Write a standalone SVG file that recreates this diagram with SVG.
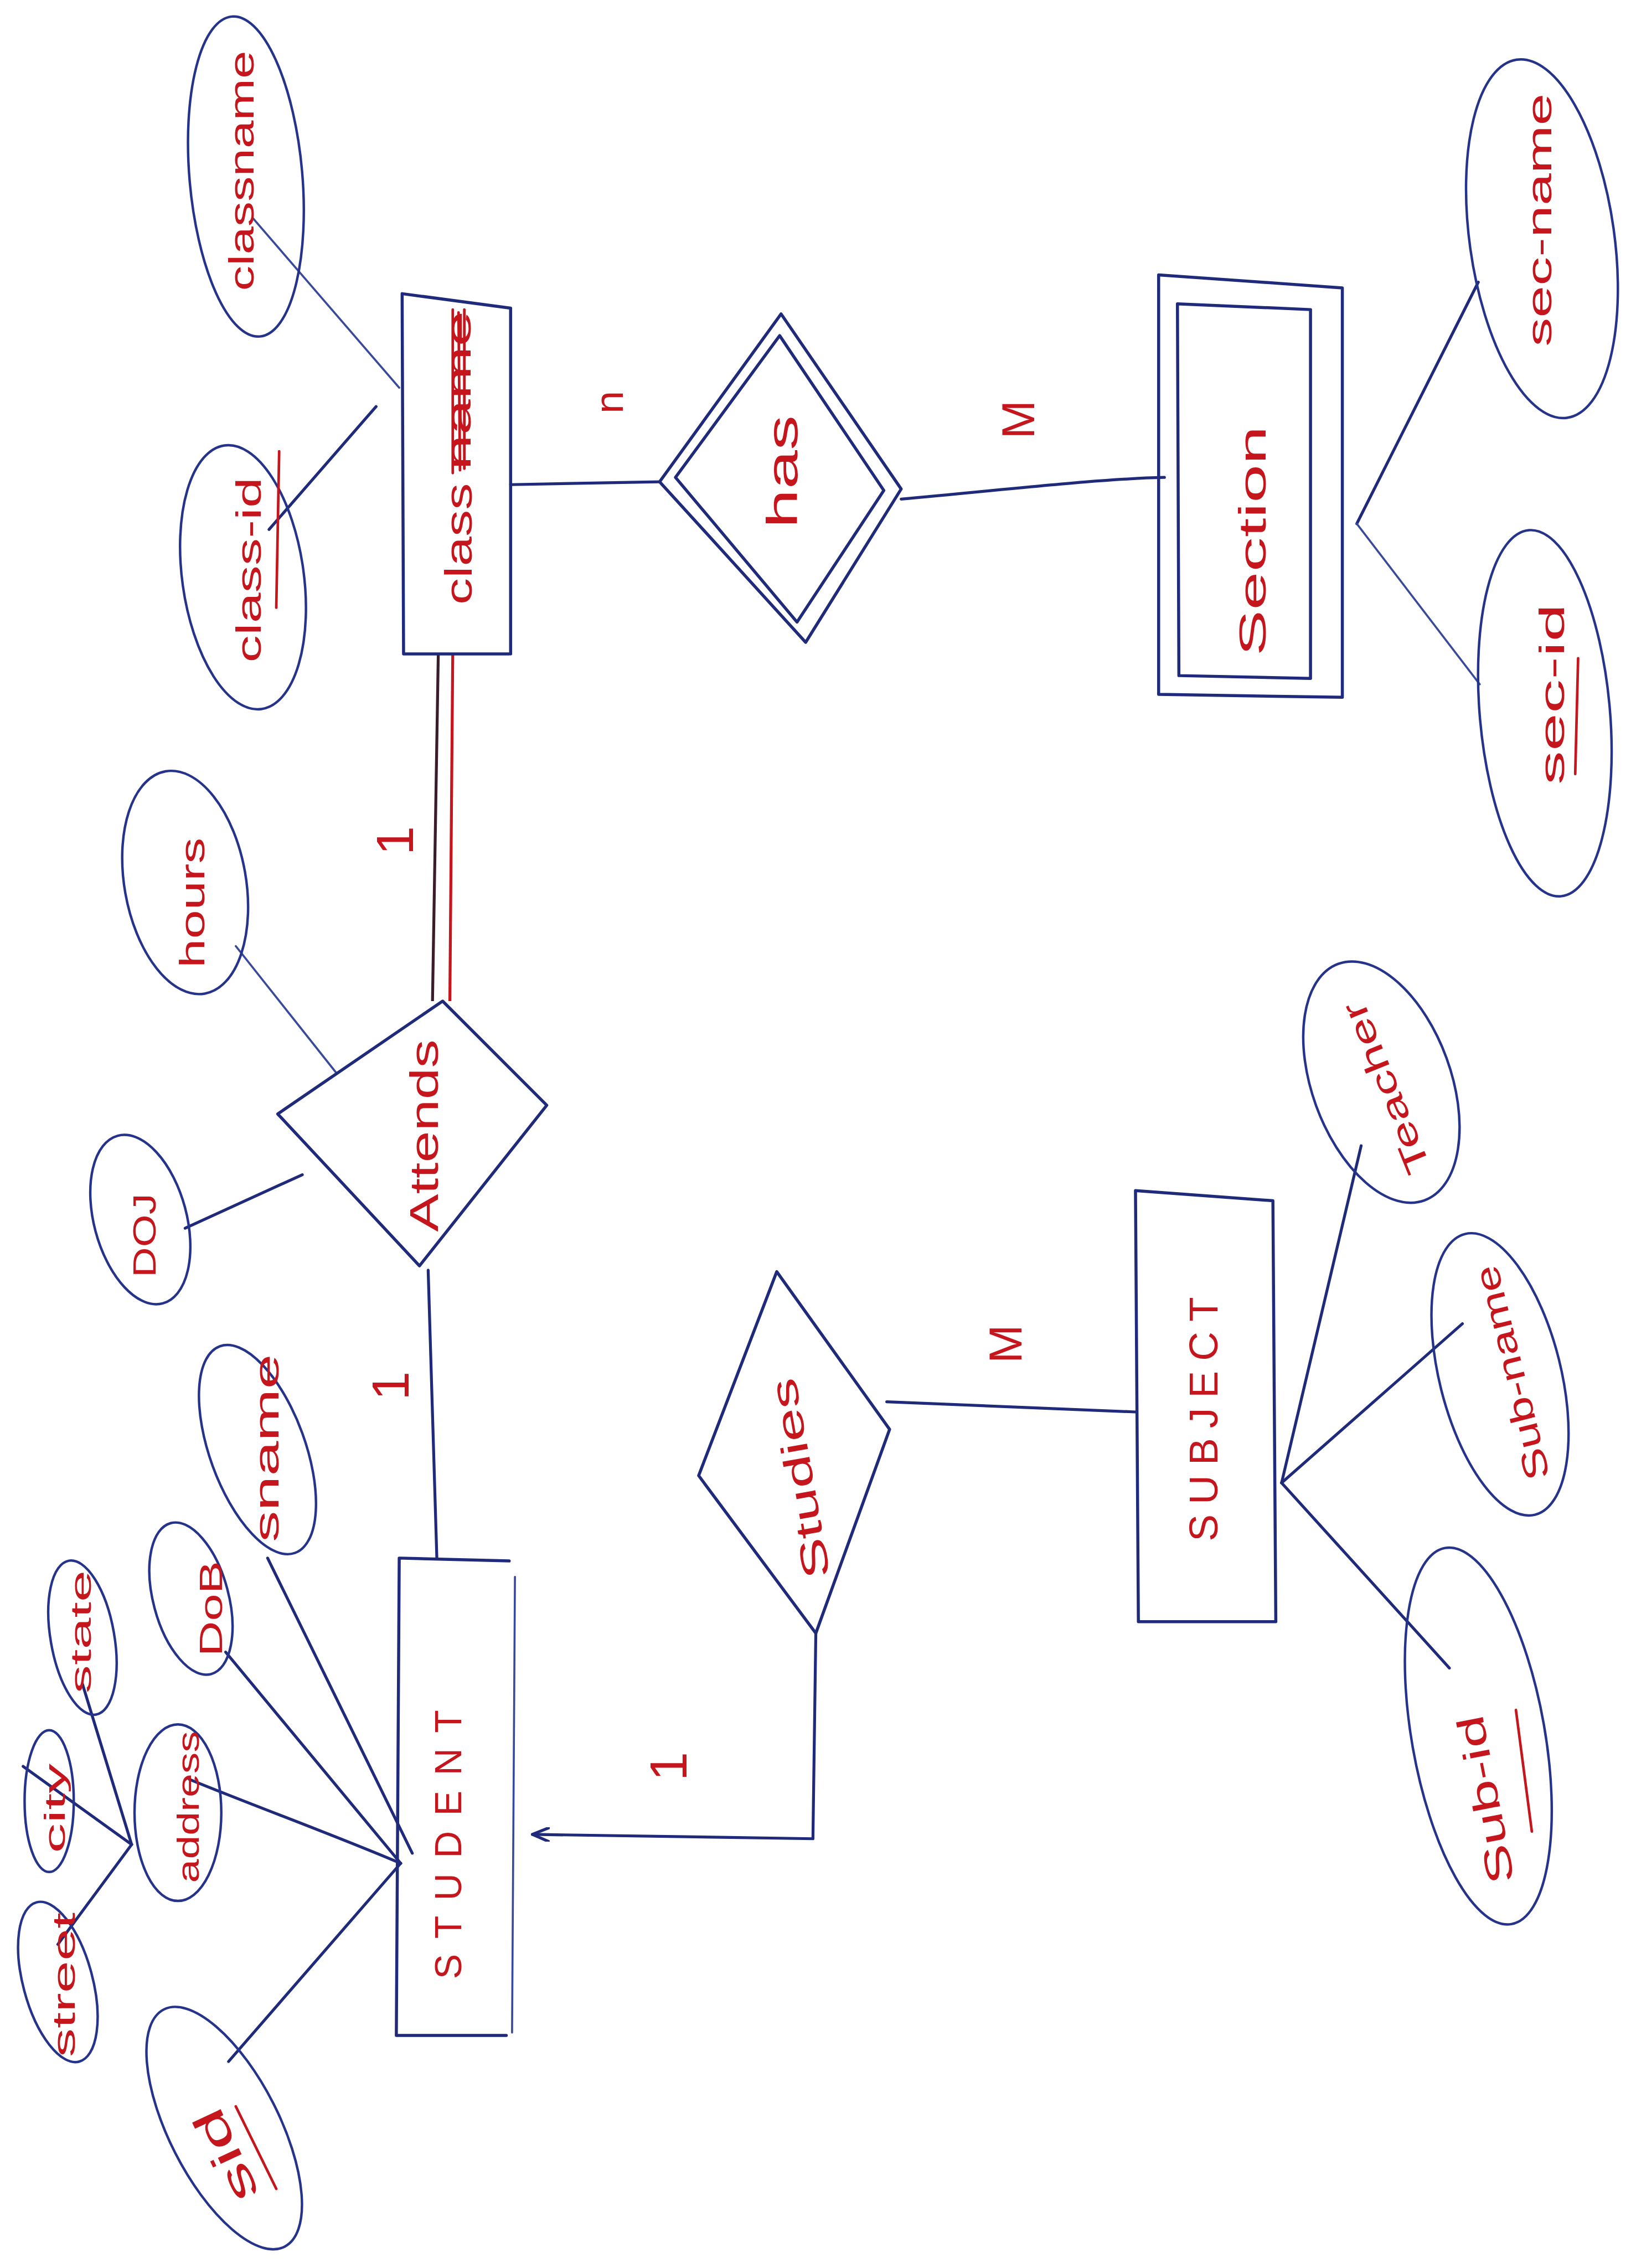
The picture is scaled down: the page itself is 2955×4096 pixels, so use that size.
<svg xmlns="http://www.w3.org/2000/svg" width="2955" height="4096" viewBox="0 0 2955 4096">
<defs>
<style>
.ln{fill:none;stroke:#1f2a7a;stroke-width:2;stroke-linecap:round;stroke-linejoin:round}
.lt{fill:none;stroke:#3a4a9a;stroke-width:1.4;stroke-linecap:round}
.el{fill:none;stroke:#25338a;stroke-width:1.7}
.sh{fill:none;stroke:#1f2a7a;stroke-width:2.1;stroke-linejoin:round;stroke-linecap:round}
.t{fill:#c4161c;font-family:"Liberation Sans","DejaVu Sans",sans-serif;text-anchor:middle;dominant-baseline:central}
.ul{stroke:#c4161c;stroke-width:1.8;fill:none;stroke-linecap:round}
.cd{fill:#c4161c;font-family:"Liberation Sans","DejaVu Sans",sans-serif;text-anchor:middle;dominant-baseline:central}
</style>
<marker id="arr" viewBox="0 0 12 10" refX="12" refY="5" markerWidth="12" markerHeight="10" orient="auto" markerUnits="userSpaceOnUse">
<path d="M0,0 L12,5 L0,10" fill="none" stroke="#1f2a7a" stroke-width="2"/>
</marker>
</defs>
<rect width="2955" height="4096" fill="#ffffff"/>
<g transform="scale(2.6127)">

<g id="connectors">
<path class="ln" d="M302,1077 L296,878"/>
<path d="M299,692 L303,452" fill="none" stroke="#3b1c2a" stroke-width="2"/>
<path d="M311,692 L313,452" fill="none" stroke="#c4161c" stroke-width="2"/>
<path class="ln" d="M353,335 L456,333"/>
<path class="ln" d="M623,345 C700,338 760,331 805,330"/>
<path class="ln" d="M564,1129 L562,1271 L368,1268" marker-end="url(#arr)"/>
<path class="ln" d="M613,969 L785,976"/>
<path class="ln" d="M158,1425 L277,1288"/>
<path class="ln" d="M131,1230 C180,1250 230,1268 277,1288"/>
<path class="ln" d="M156,1142 L277,1288"/>
<path class="ln" d="M185,1077 L285,1281"/>
<path class="ln" d="M91,1275 L40,1344"/>
<path class="ln" d="M91,1275 L16,1221"/>
<path class="ln" d="M91,1275 L57,1164"/>
<path class="ln" d="M128,849 L209,812"/>
<path class="lt" d="M163,654 L232,741"/>
<path class="ln" d="M186,366 L260,281"/>
<path class="lt" d="M175,151 L276,268"/>
<path class="ln" d="M938,362 L1022,195"/>
<path class="lt" d="M938,362 L1023,473"/>
<path class="ln" d="M886,1025 L941,792"/>
<path class="ln" d="M886,1025 L1011,915"/>
<path class="ln" d="M886,1025 L1002,1153"/>
</g>

<g id="student">
<path class="sh" d="M276,1077 L352,1079 M276,1077 L274,1407 L350,1407"/>
<path class="lt" d="M356,1090 L354,1405"/>
<text class="t" transform="translate(310,1275) rotate(-90)" font-size="26" textLength="186" lengthAdjust="spacing">STUDENT</text>
</g>

<g id="sid">
<ellipse class="el" cx="155" cy="1471" rx="38" ry="92" transform="rotate(-27 155 1471)"/>
<text class="t" transform="translate(156,1490) rotate(-115)" font-size="30" textLength="68" lengthAdjust="spacingAndGlyphs">sid</text>
<path class="ul" d="M163,1456 L191,1513"/>
</g>

<g id="street">
<ellipse class="el" cx="40" cy="1370" rx="24" ry="57" transform="rotate(-15 40 1370)"/>
<text class="t" transform="translate(44,1372) rotate(-90)" font-size="22" textLength="100" lengthAdjust="spacingAndGlyphs">street</text>
</g>

<g id="city">
<ellipse class="el" cx="34" cy="1245" rx="17" ry="49"/>
<text class="t" transform="translate(38,1250) rotate(-90)" font-size="20" textLength="62" lengthAdjust="spacingAndGlyphs">city</text>
</g>

<g id="state">
<ellipse class="el" cx="57" cy="1132" rx="22" ry="54" transform="rotate(-10 57 1132)"/>
<text class="t" transform="translate(56,1128) rotate(-90)" font-size="20" textLength="85" lengthAdjust="spacingAndGlyphs">state</text>
</g>

<g id="address">
<ellipse class="el" cx="123" cy="1253" rx="30" ry="61"/>
<text class="t" transform="translate(130,1249) rotate(-90)" font-size="21" textLength="105" lengthAdjust="spacingAndGlyphs">address</text>
</g>

<g id="dob">
<ellipse class="el" cx="132" cy="1105" rx="26" ry="54" transform="rotate(-15 132 1105)"/>
<text class="t" transform="translate(146,1112) rotate(-90)" font-size="22" textLength="66" lengthAdjust="spacingAndGlyphs">DoB</text>
</g>

<g id="sname">
<ellipse class="el" cx="178" cy="1002" rx="33" ry="76" transform="rotate(-20 178 1002)"/>
<text class="t" transform="translate(184,1001) rotate(-90)" font-size="24" textLength="130" lengthAdjust="spacingAndGlyphs">sname</text>
</g>

<g id="doj">
<ellipse class="el" cx="97" cy="843" rx="32" ry="60" transform="rotate(-15 97 843)"/>
<text class="t" transform="translate(100,854) rotate(-90)" font-size="22" textLength="58" lengthAdjust="spacingAndGlyphs">DOJ</text>
</g>

<g id="hours">
<ellipse class="el" cx="128" cy="610" rx="42" ry="78" transform="rotate(-10 128 610)"/>
<text class="t" transform="translate(133,624) rotate(-90)" font-size="24" textLength="90" lengthAdjust="spacingAndGlyphs">hours</text>
</g>

<g id="attends">
<path class="sh" d="M192,770 L306,692 L378,764 L290,875 Z"/>
<text class="t" transform="translate(293,785) rotate(-90)" font-size="28" textLength="133" lengthAdjust="spacingAndGlyphs">Attends</text>
</g>

<g id="class">
<path class="sh" d="M278,203 L353,213 M278,203 L279,452 L352,452 M353,213 L353,452"/>
<text class="t" transform="translate(317,376) rotate(-90)" font-size="26" textLength="84" lengthAdjust="spacingAndGlyphs">class</text>
<text class="t" transform="translate(317,270) rotate(-90)" font-size="24" textLength="110" lengthAdjust="spacingAndGlyphs">name</text>
<path class="ul" d="M313,214 L313,327 M317,216 L318,325 M321,214 L321,324"/>
</g>

<g id="class-id">
<ellipse class="el" cx="168" cy="399" rx="42" ry="92" transform="rotate(-8 168 399)"/>
<text class="t" transform="translate(172,394) rotate(-90)" font-size="24" textLength="128" lengthAdjust="spacingAndGlyphs">class-id</text>
<path class="ul" d="M191,420 L193,312"/>
</g>

<g id="classname">
<ellipse class="el" cx="170" cy="122" rx="39" ry="111" transform="rotate(-5 170 122)"/>
<text class="t" transform="translate(167,118) rotate(-90)" font-size="24" textLength="166" lengthAdjust="spacingAndGlyphs">classname</text>
</g>

<g id="has">
<path class="sh" d="M456,333 L540,217 L623,338 L557,444 Z"/>
<path class="sh" d="M467,330 L539,232 L611,339 L551,430 Z"/>
<text class="t" transform="translate(541,326) rotate(-90)" font-size="30" textLength="78" lengthAdjust="spacingAndGlyphs">has</text>
</g>

<g id="section">
<path class="sh" d="M801,190 L928,199 L928,482 L801,480 Z"/>
<path class="sh" d="M814,210 L906,214 L906,469 L815,467 Z"/>
<text class="t" transform="translate(866,374) rotate(-90)" font-size="26" textLength="159" lengthAdjust="spacingAndGlyphs">Section</text>
</g>

<g id="sec-name">
<ellipse class="el" cx="1066" cy="165" rx="50" ry="125" transform="rotate(-8 1066 165)"/>
<text class="t" transform="translate(1064,152) rotate(-90)" font-size="24" textLength="175" lengthAdjust="spacingAndGlyphs">sec-name</text>
</g>

<g id="sec-id">
<ellipse class="el" cx="1068" cy="493" rx="45" ry="127" transform="rotate(-5 1068 493)"/>
<text class="t" transform="translate(1073,480) rotate(-90)" font-size="24" textLength="125" lengthAdjust="spacingAndGlyphs">sec-id</text>
<path class="ul" d="M1089,535 L1091,455"/>
</g>

<g id="studies">
<path class="sh" d="M483,1020 L537,879 L615,988 L564,1129 Z"/>
<text class="t" transform="translate(553,1022) rotate(-100)" font-size="26" textLength="140" lengthAdjust="spacingAndGlyphs">Studies</text>
</g>

<g id="subject">
<path class="sh" d="M785,823 L880,830 L882,1121 L787,1121 Z"/>
<text class="t" transform="translate(832,981) rotate(-90)" font-size="28" textLength="169" lengthAdjust="spacing">SUBJECT</text>
</g>

<g id="teacher">
<ellipse class="el" cx="955" cy="748" rx="48" ry="87" transform="rotate(-20 955 748)"/>
<text class="t" transform="translate(958,752) rotate(-112)" font-size="24" textLength="126" lengthAdjust="spacingAndGlyphs">Teacher</text>
</g>

<g id="sub-name">
<ellipse class="el" cx="1037" cy="950" rx="42" ry="100" transform="rotate(-14 1037 950)"/>
<text class="t" transform="translate(1045,949) rotate(-104)" font-size="24" textLength="152" lengthAdjust="spacingAndGlyphs">Sub-name</text>
</g>

<g id="sub-id">
<ellipse class="el" cx="1022" cy="1200" rx="46" ry="132" transform="rotate(-10 1022 1200)"/>
<text class="t" transform="translate(1027,1244) rotate(-101)" font-size="26" textLength="118" lengthAdjust="spacingAndGlyphs">Sub-id</text>
<path class="ul" d="M1048,1182 L1059,1266"/>
</g>

<g id="cardinalities">
<text class="cd" transform="translate(270,958) rotate(-90)" font-size="36">1</text>
<text class="cd" transform="translate(273,581) rotate(-90)" font-size="36">1</text>
<text class="cd" transform="translate(462,1221) rotate(-90)" font-size="36">1</text>
<text class="cd" transform="translate(421,278) rotate(-90)" font-size="28">n</text>
<text class="cd" transform="translate(704,290) rotate(-90)" font-size="32">M</text>
<text class="cd" transform="translate(695,929) rotate(-90)" font-size="32">M</text>
</g>

</g>
</svg>
